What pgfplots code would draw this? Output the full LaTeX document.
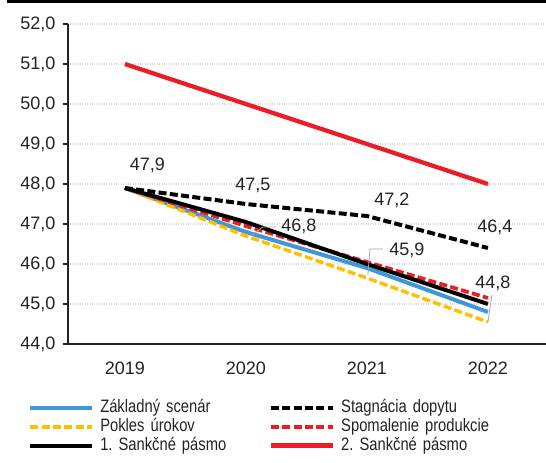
\documentclass[border=0pt]{standalone}
\usepackage{fontspec}
\setmainfont{Liberation Sans}
\newfontfamily\legfont[FakeStretch=0.82]{Liberation Sans}
\usepackage{pgfplots}
\pgfplotsset{compat=1.18}
\definecolor{cblue}{RGB}{62,152,216}
\definecolor{cyellow}{RGB}{255,190,0}
\definecolor{cred}{RGB}{236,28,36}
\definecolor{ctext}{RGB}{35,35,35}
\frenchspacing
\begin{document}
\begin{tikzpicture}
\useasboundingbox (-51pt,-89.25pt) rectangle (358.5pt,258pt);
\fill[black] (-45.75pt,255.75pt) rectangle (358.5pt,258pt);
\begin{axis}[
  scale only axis,
  width=358.5pt, height=240pt,
  xmin=-0.47, xmax=3.48,
  ymin=44, ymax=52,
  xtick={0,1,2,3},
  xticklabels={2019,2020,2021,2022},
  ytick={44,45,46,47,48,49,50,51,52},
  axis x line*=bottom, axis y line*=left,
  axis line style={ctext, line width=0.8pt},
  tick style={ctext, line width=0.8pt},
  tick align=outside,
  ymajorgrids,
  grid style={gray!30, line width=0.8pt, densely dotted},
  major tick length=4pt,
  x tick style={draw=none},
  font=\fontsize{13.5pt}{16pt}\selectfont,
  ticklabel style={text=ctext},
  yticklabel style={xshift=-2pt},
  xticklabel style={yshift=-6pt},
  /pgf/number format/.cd, use comma, fixed, fixed zerofill, precision=1, assume math mode=true,
  /pgfplots/.cd,
  clip=false,
  legend columns=2,
  legend cell align=left,
  legend image code/.code={\draw[#1] (0pt,0pt) -- (46.5pt,0pt);},
  legend style={draw=none, fill=none, at={(rel axis cs:0,0)}, anchor=north west,
     xshift=-30pt, yshift=-41.5pt, inner sep=0pt,
     font=\legfont\fontsize{13.5pt}{16pt}\selectfont,
     nodes={inner xsep=4.5pt, inner ysep=0pt, text height=10pt, text depth=3pt, text width=122pt, align=left, text=ctext},
     row sep=1pt, column sep=0pt},
]
\addplot[cblue, line width=3pt] coordinates {(0,47.9) (1,46.8) (2,45.9) (3,44.8)};
\addlegendentry{Základný scenár}
\addplot[black, line width=3pt, dash pattern=on 6pt off 2.5pt] coordinates {(0,47.9) (1,47.5) (2,47.2) (3,46.4)};
\addlegendentry{Stagnácia dopytu}
\addplot[cyellow, line width=2.6pt, dash pattern=on 6pt off 2.5pt] coordinates {(0,47.9) (1,46.7) (2,45.65) (3,44.55)};
\addlegendentry{Pokles úrokov}
\addplot[cred, line width=2.8pt, dash pattern=on 6pt off 2.5pt] coordinates {(0,47.9) (1,46.95) (2,46.05) (3,45.15)};
\addlegendentry{Spomalenie produkcie}
\addplot[black, line width=3pt] coordinates {(0,47.9) (1,47.05) (2,46.0) (3,45.0)};
\addlegendentry{1. Sankčné pásmo}
\addplot[cred, line width=3.2pt] coordinates {(0,51) (1,50) (2,49) (3,48)};
\addlegendentry{2. Sankčné pásmo}
% data labels
\begin{scope}[every node/.style={text=ctext, font=\fontsize{13.5pt}{16pt}\selectfont, inner sep=0pt}]
\node at (axis cs:0.186,48.475) {47,9};
\node at (axis cs:1.058,47.975) {47,5};
\node at (axis cs:2.207,47.6) {47,2};
\node at (axis cs:3.058,46.925) {46,4};
\node at (axis cs:1.438,46.95) {46,8};
\node at (axis cs:2.331,46.35) {45,9};
\node at (axis cs:3.041,45.525) {44,8};
\end{scope}
\draw[gray!70, line width=0.6pt] (axis cs:1.05,46.725) -- (axis cs:1.14,46.925) -- (axis cs:1.248,46.925);
\draw[gray!70, line width=0.6pt] (axis cs:2.008,45.725) -- (axis cs:2.025,46.375) -- (axis cs:2.132,46.375);
\draw[gray!70, line width=0.6pt] (axis cs:3.0,44.55) -- (axis cs:3.033,45.225);
\end{axis}
\end{tikzpicture}
\end{document}
